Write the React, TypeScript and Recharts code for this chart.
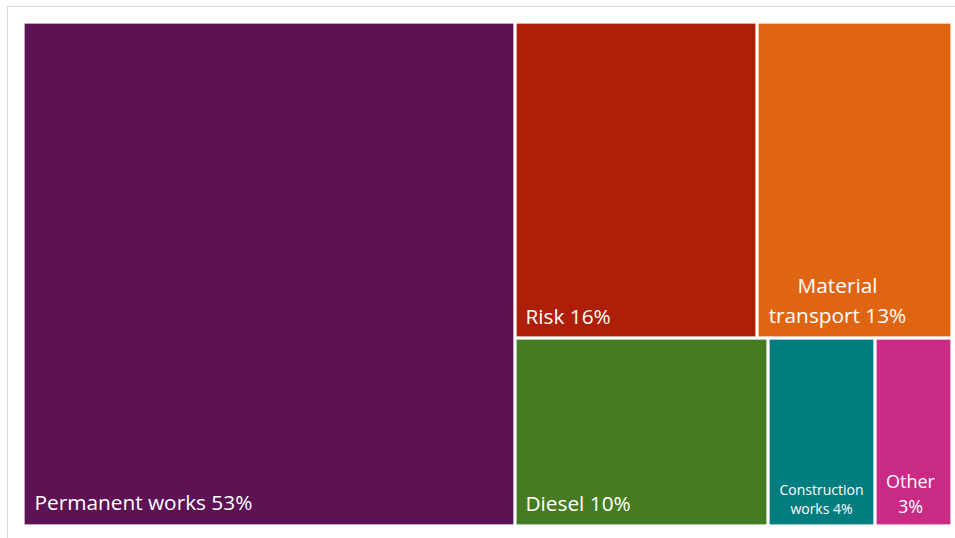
import { Treemap } from 'recharts';

// shares (labels show the rounded figures)
const categories = ['Permanent works', 'Risk', 'Material transport', 'Diesel', 'Construction works', 'Other'];
const shares = [52.96, 16.31, 13.14, 10.14, 4.31, 3.14];
const shareLabels = ['53%', '16%', '13%', '10%', '4%', '3%'];
const colors = ['#5c1253', '#ae1f0a', '#e06512', '#467c21', '#007d7e', '#c92a84'];

const data = categories.map((name, i) => ({
  name,
  value: shares[i],
  pct: shareLabels[i],
  color: colors[i],
}));

// how each label sits in its cell: lines, anchor, offsets from the cell edges
const labelLayout: Record<string, { lines: (pct: string) => string[]; size: number; mode: 'left' | 'center'; dx: number; bottom: number; lh: number }> = {
  'Permanent works': { lines: (p) => [`Permanent works ${p}`], size: 20.8, mode: 'left', dx: 10, bottom: 15, lh: 0 },
  Risk: { lines: (p) => [`Risk ${p}`], size: 20.8, mode: 'left', dx: 9, bottom: 13, lh: 0 },
  'Material transport': { lines: (p) => ['Material', `transport ${p}`], size: 20.8, mode: 'center', dx: -17, bottom: 14, lh: 30 },
  Diesel: { lines: (p) => [`Diesel ${p}`], size: 20.8, mode: 'left', dx: 9, bottom: 14, lh: 0 },
  'Construction works': { lines: (p) => ['Construction', `works ${p}`], size: 14, mode: 'center', dx: 0, bottom: 11, lh: 19 },
  Other: { lines: (p) => ['Other', p], size: 18, mode: 'center', dx: -3, bottom: 12, lh: 25 },
};

const Cell = (props: any) => {
  const { x, y, width, height, depth, name, color, pct } = props;
  if (depth !== 1) return null;
  const cfg = labelLayout[name];
  const lines = cfg.lines(pct);
  const tx = cfg.mode === 'left' ? x + 1.5 + cfg.dx : x + width / 2 + cfg.dx;
  const base = y + height - 1.5 - cfg.bottom;
  return (
    <g>
      <rect x={x + 1.5} y={y + 1.5} width={width - 3} height={height - 3} fill={color} stroke="rgba(255,255,255,0.25)" strokeWidth={1} />
      {lines.map((t, i) => (
        <text
          key={i}
          x={tx}
          y={base - (lines.length - 1 - i) * cfg.lh}
          fill="#fff"
          stroke="none"
          fontSize={cfg.size}
          fontFamily="'Open Sans', sans-serif"
          textAnchor={cfg.mode === 'left' ? 'start' : 'middle'}
        >
          {t}
        </text>
      ))}
    </g>
  );
};

export default function App() {
  return (
    <div style={{ position: 'fixed', left: 0, top: 0, width: 955, height: 538, overflow: 'hidden', background: '#fff' }}>
      <div style={{ position: 'absolute', left: 7, top: 6, width: 970, height: 560, border: '1px solid #d9d9d9' }} />
      <div style={{ position: 'absolute', left: 22.5, top: 21.5 }}>
        <Treemap
          width={929}
          height={504}
          data={data}
          dataKey="value"
          nameKey="name"
          aspectRatio={(1 + Math.sqrt(5)) / 2}
          isAnimationActive={false}
          content={<Cell />}
        />
      </div>
    </div>
  );
}
